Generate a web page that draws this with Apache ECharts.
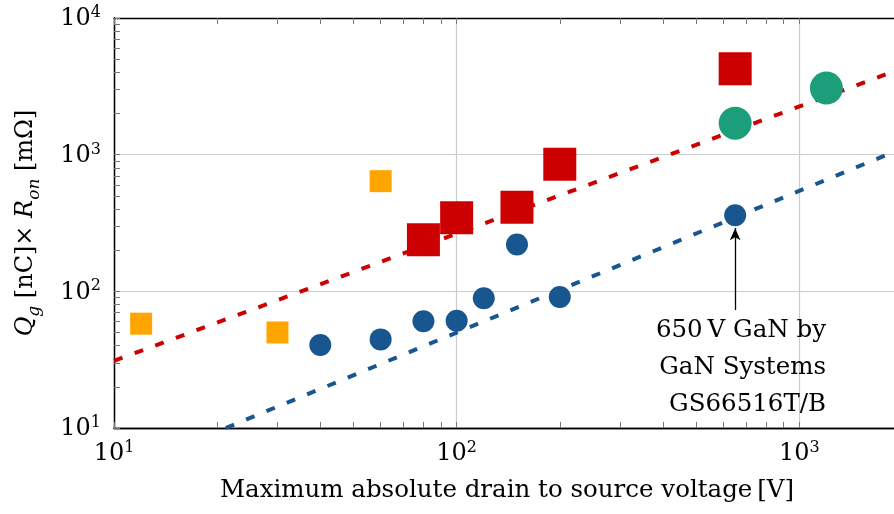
<!DOCTYPE html>
<html>
<head>
<meta charset="utf-8">
<script src="https://cdn.jsdelivr.net/npm/echarts@6/dist/echarts.min.js"></script>
<style>
  html, body { margin: 0; padding: 0; background: #fff; }
  #chart { width: 894px; height: 514px; }
</style>
</head>
<body>
<div id="chart"></div>
<script>
const FONT = "DejaVu Serif";

// points: [max drain-source voltage (V), Qg x Ron (nC*mOhm)]
const orangeSquares = [[12, 58], [30, 50], [60, 640]];
const redSquares = [[80, 238], [100, 345], [150, 412], [200, 850], [650, 4250]];
const greenCircles = [[650, 1700], [1200, 3070]];
const blueCircles = [[40, 40.5], [60, 44.5], [80, 60.5], [100, 61], [120, 89], [150, 220], [200, 91], [650, 360]];

// dashed trend lines (straight in log-log)
const redTrend = [[10, 31], [1890, 4070]];
const blueTrend = [[21.2, 10], [1890, 1050]];

// annotation arrow for the GaN Systems part
const arrowTail = [650, 73];
const arrowTip = [650, 290];
const noteLines = ["650\u2009V GaN by", "GaN Systems", "GS66516T/B"];

const xMin = 10, xMax = 1890;
const yMin = 10, yMax = 10000;
const xTicks = [10, 20, 30, 40, 50, 60, 70, 80, 90, 100, 200, 300, 400, 500, 600, 700, 800, 900, 1000];
const yTicks = [10, 20, 30, 40, 50, 60, 70, 80, 90, 100, 200, 300, 400, 500, 600, 700, 800, 900,
  1000, 2000, 3000, 4000, 5000, 6000, 7000, 8000, 9000, 10000];
const xLabels = [10, 100, 1000];
const yLabels = [10, 100, 1000, 10000];

const RED = "#cc0000";
const BLUE = "#18568f";
const GREEN = "#1d9e7a";
const ORANGE = "#ffa500";

function powLabel(v) {
  return "{b|10}{sup|" + Math.round(Math.log10(v)) + "}";
}

const powRich = {
  b: { fontFamily: FONT, fontSize: 24, color: "#000", verticalAlign: "bottom" },
  sup: { fontFamily: FONT, fontSize: 16, color: "#000", verticalAlign: "top", padding: [0, 0, 10, 0] },
};

const tickStyle = { show: true, inside: true, length: 6, lineStyle: { color: "#777", width: 1 } };
const axisLine = { show: true, lineStyle: { color: "#000", width: 1.3 } };
const splitLineStyle = { color: "#cccccc", width: 1.2 };

// helper axes that only carry the minor ticks (no grid lines)
function tickAxis(min, max, position, ticks) {
  return {
    type: "log", logBase: 10, min: min, max: max, position: position,
    axisLine: axisLine,
    axisTick: Object.assign({ customValues: ticks }, tickStyle),
    axisLabel: { show: false },
    splitLine: { show: false },
  };
}

const chart = echarts.init(document.getElementById("chart"), null, { renderer: "canvas" });

// the plot runs past the right edge of the picture, so no right border shows
chart.setOption({
  animation: false,
  backgroundColor: "#fff",
  grid: { left: 114, right: -3, top: 18, bottom: 86, containLabel: false },
  xAxis: [
    {
      type: "log", logBase: 10, min: xMin, max: xMax, position: "bottom",
      axisLine: axisLine,
      axisTick: { show: false },
      axisLabel: { customValues: xLabels, formatter: powLabel, rich: powRich, margin: 12 },
      splitLine: { show: true, showMinLine: false, showMaxLine: false, lineStyle: splitLineStyle },
      name: "Maximum absolute drain to source voltage\u2009[V]",
      nameLocation: "middle", nameGap: 50,
      nameTextStyle: { fontFamily: FONT, fontSize: 24.5, color: "#000", padding: [0, 0, 0, 6] },
    },
    tickAxis(xMin, xMax, "bottom", xTicks),
    tickAxis(xMin, xMax, "top", xTicks),
  ],
  yAxis: [
    {
      type: "log", logBase: 10, min: yMin, max: yMax, position: "left",
      axisLine: axisLine,
      axisTick: { show: false },
      axisLabel: { customValues: yLabels, formatter: powLabel, rich: powRich, margin: 13 },
      splitLine: { show: true, showMinLine: false, showMaxLine: false, lineStyle: splitLineStyle },
      name: "{i|Q}{s|g}{n| [nC]\u00d7 }{i|R}{s|on}{n| [m\u03a9]}",
      nameLocation: "middle", nameGap: 71,
      nameTextStyle: {
        fontFamily: FONT, fontSize: 24, color: "#000",
        rich: {
          i: { fontFamily: FONT, fontSize: 24, fontStyle: "italic", color: "#000", verticalAlign: "top" },
          n: { fontFamily: FONT, fontSize: 24, color: "#000", verticalAlign: "top" },
          s: { fontFamily: FONT, fontSize: 17, fontStyle: "italic", color: "#000", verticalAlign: "bottom", padding: [12, 0, 0, 0] },
        },
      },
    },
    tickAxis(yMin, yMax, "left", yTicks),
  ],
  series: [
    {
      type: "line", data: redTrend, symbol: "none", z: 1,
      lineStyle: { color: RED, width: 4, type: [9, 13] },
    },
    {
      type: "line", data: blueTrend, symbol: "none", z: 1,
      lineStyle: { color: BLUE, width: 4, type: [9, 13] },
    },
    {
      type: "scatter", data: orangeSquares, symbol: "rect", symbolSize: 22, z: 3,
      itemStyle: { color: ORANGE, opacity: 1 },
    },
    {
      type: "scatter", data: redSquares, symbol: "rect", symbolSize: 33, z: 3,
      itemStyle: { color: RED, opacity: 1 },
    },
    {
      type: "scatter", data: greenCircles, symbol: "circle", symbolSize: 33, z: 3,
      itemStyle: { color: GREEN, opacity: 1 },
    },
    {
      type: "scatter", data: blueCircles, symbol: "circle", symbolSize: 22, z: 3,
      itemStyle: { color: BLUE, opacity: 1 },
      markLine: {
        silent: true, animation: false,
        symbol: ["none", "arrow"], symbolSize: [8, 12],
        label: { show: false },
        lineStyle: { color: "#000", width: 1.3, type: "solid" },
        data: [[{ coord: arrowTail }, { coord: arrowTip }]],
      },
    },
  ],
  graphic: [
    {
      type: "text", right: 894 - 826, top: 312, z: 10,
      style: {
        text: noteLines.join("\n"),
        font: "24.5px " + FONT, fill: "#000",
        textAlign: "right", lineHeight: 37,
      },
    },
  ],
});
</script>
</body>
</html>
